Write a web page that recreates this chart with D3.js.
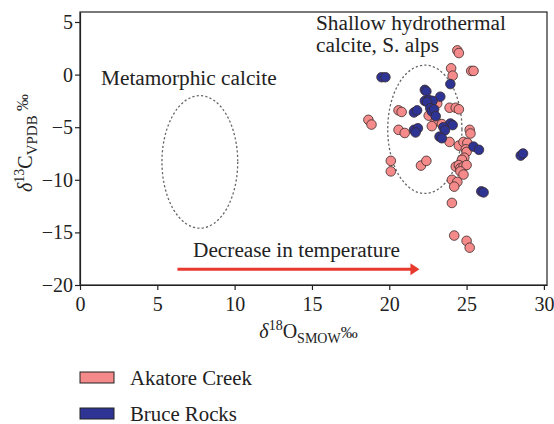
<!DOCTYPE html>
<html>
<head>
<meta charset="utf-8">
<script src="https://cdn.jsdelivr.net/npm/d3@7"></script>
<style>
  html, body { margin: 0; padding: 0; background: #fff; }
  svg text { font-family: "Liberation Serif", "DejaVu Serif", serif; fill: #222; }
</style>
</head>
<body>
<svg id="chart" width="554" height="424"></svg>
<script>
// δ18O (x) / δ13C (y) pairs
const akatore = [
  [24.4, 2.3], [24.5, 2.05], [24.0, 0.6], [24.1, -0.1], [25.3, 0.35], [25.45, 0.35],
  [23.9, -3.15], [24.3, -3.15], [24.5, -3.3], [23.1, -2.75], [20.6, -3.4], [20.8, -3.55],
  [18.65, -4.3], [18.85, -4.75], [22.55, -3.9], [23.0, -4.4], [23.4, -4.7], [22.75, -4.9],
  [20.6, -5.25], [21.0, -5.55], [25.2, -5.25], [25.25, -5.6],
  [23.9, -6.4], [24.5, -6.75], [24.8, -6.4], [25.05, -6.5], [24.95, -7.1], [25.0, -7.35],
  [24.85, -7.9], [24.7, -8.1], [24.3, -8.75], [24.5, -8.6], [24.6, -8.9], [24.8, -8.75],
  [25.0, -8.6], [24.6, -9.2], [24.8, -9.5], [24.05, -10.0], [24.4, -10.2], [24.2, -10.65],
  [24.05, -12.2], [24.2, -15.3], [25.0, -15.8], [25.2, -16.45],
  [20.1, -8.2], [20.1, -9.2], [22.05, -8.65], [22.4, -8.2]
];
const bruce = [
  [19.5, -0.25], [19.75, -0.25], [23.95, -0.9], [22.3, -1.45], [22.4, -1.6], [23.3, -2.1],
  [22.3, -2.5], [22.55, -2.4], [22.8, -2.5], [22.45, -2.6], [22.65, -3.2], [22.75, -3.5],
  [22.9, -3.3], [21.6, -3.6], [21.8, -3.4], [23.0, -3.95], [23.95, -4.65], [24.1, -4.8],
  [23.5, -5.0], [23.6, -5.3], [21.6, -5.25], [21.85, -5.1], [21.7, -5.5],
  [23.25, -5.9], [23.4, -6.05], [25.45, -6.85], [25.8, -7.15],
  [28.5, -7.7], [28.65, -7.5], [25.95, -11.1], [26.1, -11.2]
];
const xTicks = [0, 5, 10, 15, 20, 25, 30];
const yTicks = [5, 0, -5, -10, -15, -20];
// field ellipses: center x, center y, radius x, radius y (data units)
const zones = [
  { name: "Metamorphic calcite", cx: 7.75, cy: -8.3, rx: 2.45, ry: 6.3 },
  { name: "Shallow hydrothermal calcite, S. alps", cx: 22.3, cy: -5.2, rx: 2.4, ry: 6.1 }
];
const arrowFrom = [6.3, -18.5];
const arrowTo = [21.95, -18.5];
const series = [
  { name: "Akatore Creek", data: akatore, color: "#f48a8a" },
  { name: "Bruce Rocks", data: bruce, color: "#2e3494" }
];

const svg = d3.select("#chart");
const x = d3.scaleLinear().domain([0, 30.2]).range([80, 547]);
const y = d3.scaleLinear().domain([-20, 5.95]).range([285, 12]);

// frame
svg.append("rect").attr("x", 80).attr("y", 12).attr("width", 467).attr("height", 273)
  .attr("fill", "none").attr("stroke", "#222").attr("stroke-width", 1.2);

const xAxis = svg.append("g").attr("transform", "translate(0,285)")
  .call(d3.axisBottom(x).tickValues(xTicks).tickSize(5).tickSizeOuter(0).tickFormat(d3.format("d")));
const yAxis = svg.append("g").attr("transform", "translate(80,0)")
  .call(d3.axisLeft(y).tickValues(yTicks).tickSize(5).tickSizeOuter(0)
    .tickFormat(v => (v < 0 ? "\u2212" + (-v) : v)));
[xAxis, yAxis].forEach(a => {
  a.select(".domain").attr("stroke", "#222").attr("stroke-width", 1.2);
  a.selectAll(".tick line").attr("stroke", "#222").attr("stroke-width", 1.2);
  a.selectAll(".tick text").style("font-family", "Liberation Serif, serif")
    .style("font-size", "20px").attr("fill", "#222");
});
xAxis.selectAll(".tick text").attr("dy", "0.9em");
yAxis.selectAll(".tick text").attr("x", -7);

// dashed field ellipses
svg.selectAll(".zone").data(zones).join("ellipse")
  .attr("cx", d => x(d.cx)).attr("cy", d => y(d.cy))
  .attr("rx", d => x(d.cx + d.rx) - x(d.cx)).attr("ry", d => y(d.cy - d.ry) - y(d.cy))
  .attr("fill", "none").attr("stroke", "#666").attr("stroke-width", 1.3)
  .attr("stroke-dasharray", "2.2,2.2");

// temperature arrow
svg.append("line")
  .attr("x1", x(arrowFrom[0])).attr("y1", y(arrowFrom[1]))
  .attr("x2", x(arrowTo[0]) - 8).attr("y2", y(arrowTo[1]))
  .attr("stroke", "#e8392e").attr("stroke-width", 3);
svg.append("path")
  .attr("d", `M${x(arrowTo[0])},${y(arrowTo[1])} l-9,-6 l0,12 z`)
  .attr("fill", "#e8392e");

// labels
svg.append("text").attr("x", 101).attr("y", 85).style("font-size", "21.3px").text("Metamorphic calcite");
svg.append("text").attr("x", 316).attr("y", 30).style("font-size", "21.3px").text("Shallow hydrothermal");
svg.append("text").attr("x", 316).attr("y", 52).style("font-size", "21.3px").text("calcite, S. alps");
svg.append("text").attr("x", 193).attr("y", 257).style("font-size", "21.3px").text("Decrease in temperature");

// points
series.forEach(s => {
  svg.append("g").selectAll("circle").data(s.data).join("circle")
    .attr("cx", d => x(d[0])).attr("cy", d => y(d[1])).attr("r", 4.8)
    .attr("fill", s.color).attr("stroke", "#3a2a2a").attr("stroke-width", 0.8);
});

// axis titles
const xt = svg.append("text").attr("x", 308.5).attr("y", 338).attr("text-anchor", "middle")
  .style("font-size", "20px");
xt.append("tspan").style("font-style", "italic").text("\u03b4");
xt.append("tspan").attr("dy", -8).style("font-size", "14px").text("18");
xt.append("tspan").attr("dy", 8).text("O");
xt.append("tspan").attr("dy", 5).style("font-size", "14px").text("SMOW");
xt.append("tspan").attr("dy", -5).style("font-size", "17px").text("\u2030");

const yt = svg.append("text").attr("transform", "translate(32,143) rotate(-90)")
  .attr("text-anchor", "middle").style("font-size", "20px");
yt.append("tspan").style("font-style", "italic").text("\u03b4");
yt.append("tspan").attr("dy", -8).style("font-size", "14px").text("13");
yt.append("tspan").attr("dy", 8).text("C");
yt.append("tspan").attr("dy", 5).style("font-size", "15px").text("VPDB");
yt.append("tspan").attr("dy", -9).style("font-size", "17px").text(" \u2030");

// legend
const leg = svg.append("g").selectAll("g").data(series).join("g")
  .attr("transform", (d, i) => `translate(80,${372 + i * 36})`);
leg.append("rect").attr("width", 34).attr("height", 11)
  .attr("fill", d => d.color).attr("stroke", "#222").attr("stroke-width", 1);
leg.append("text").attr("x", 50).attr("y", 13).style("font-size", "20.8px").text(d => d.name);
</script>
</body>
</html>
